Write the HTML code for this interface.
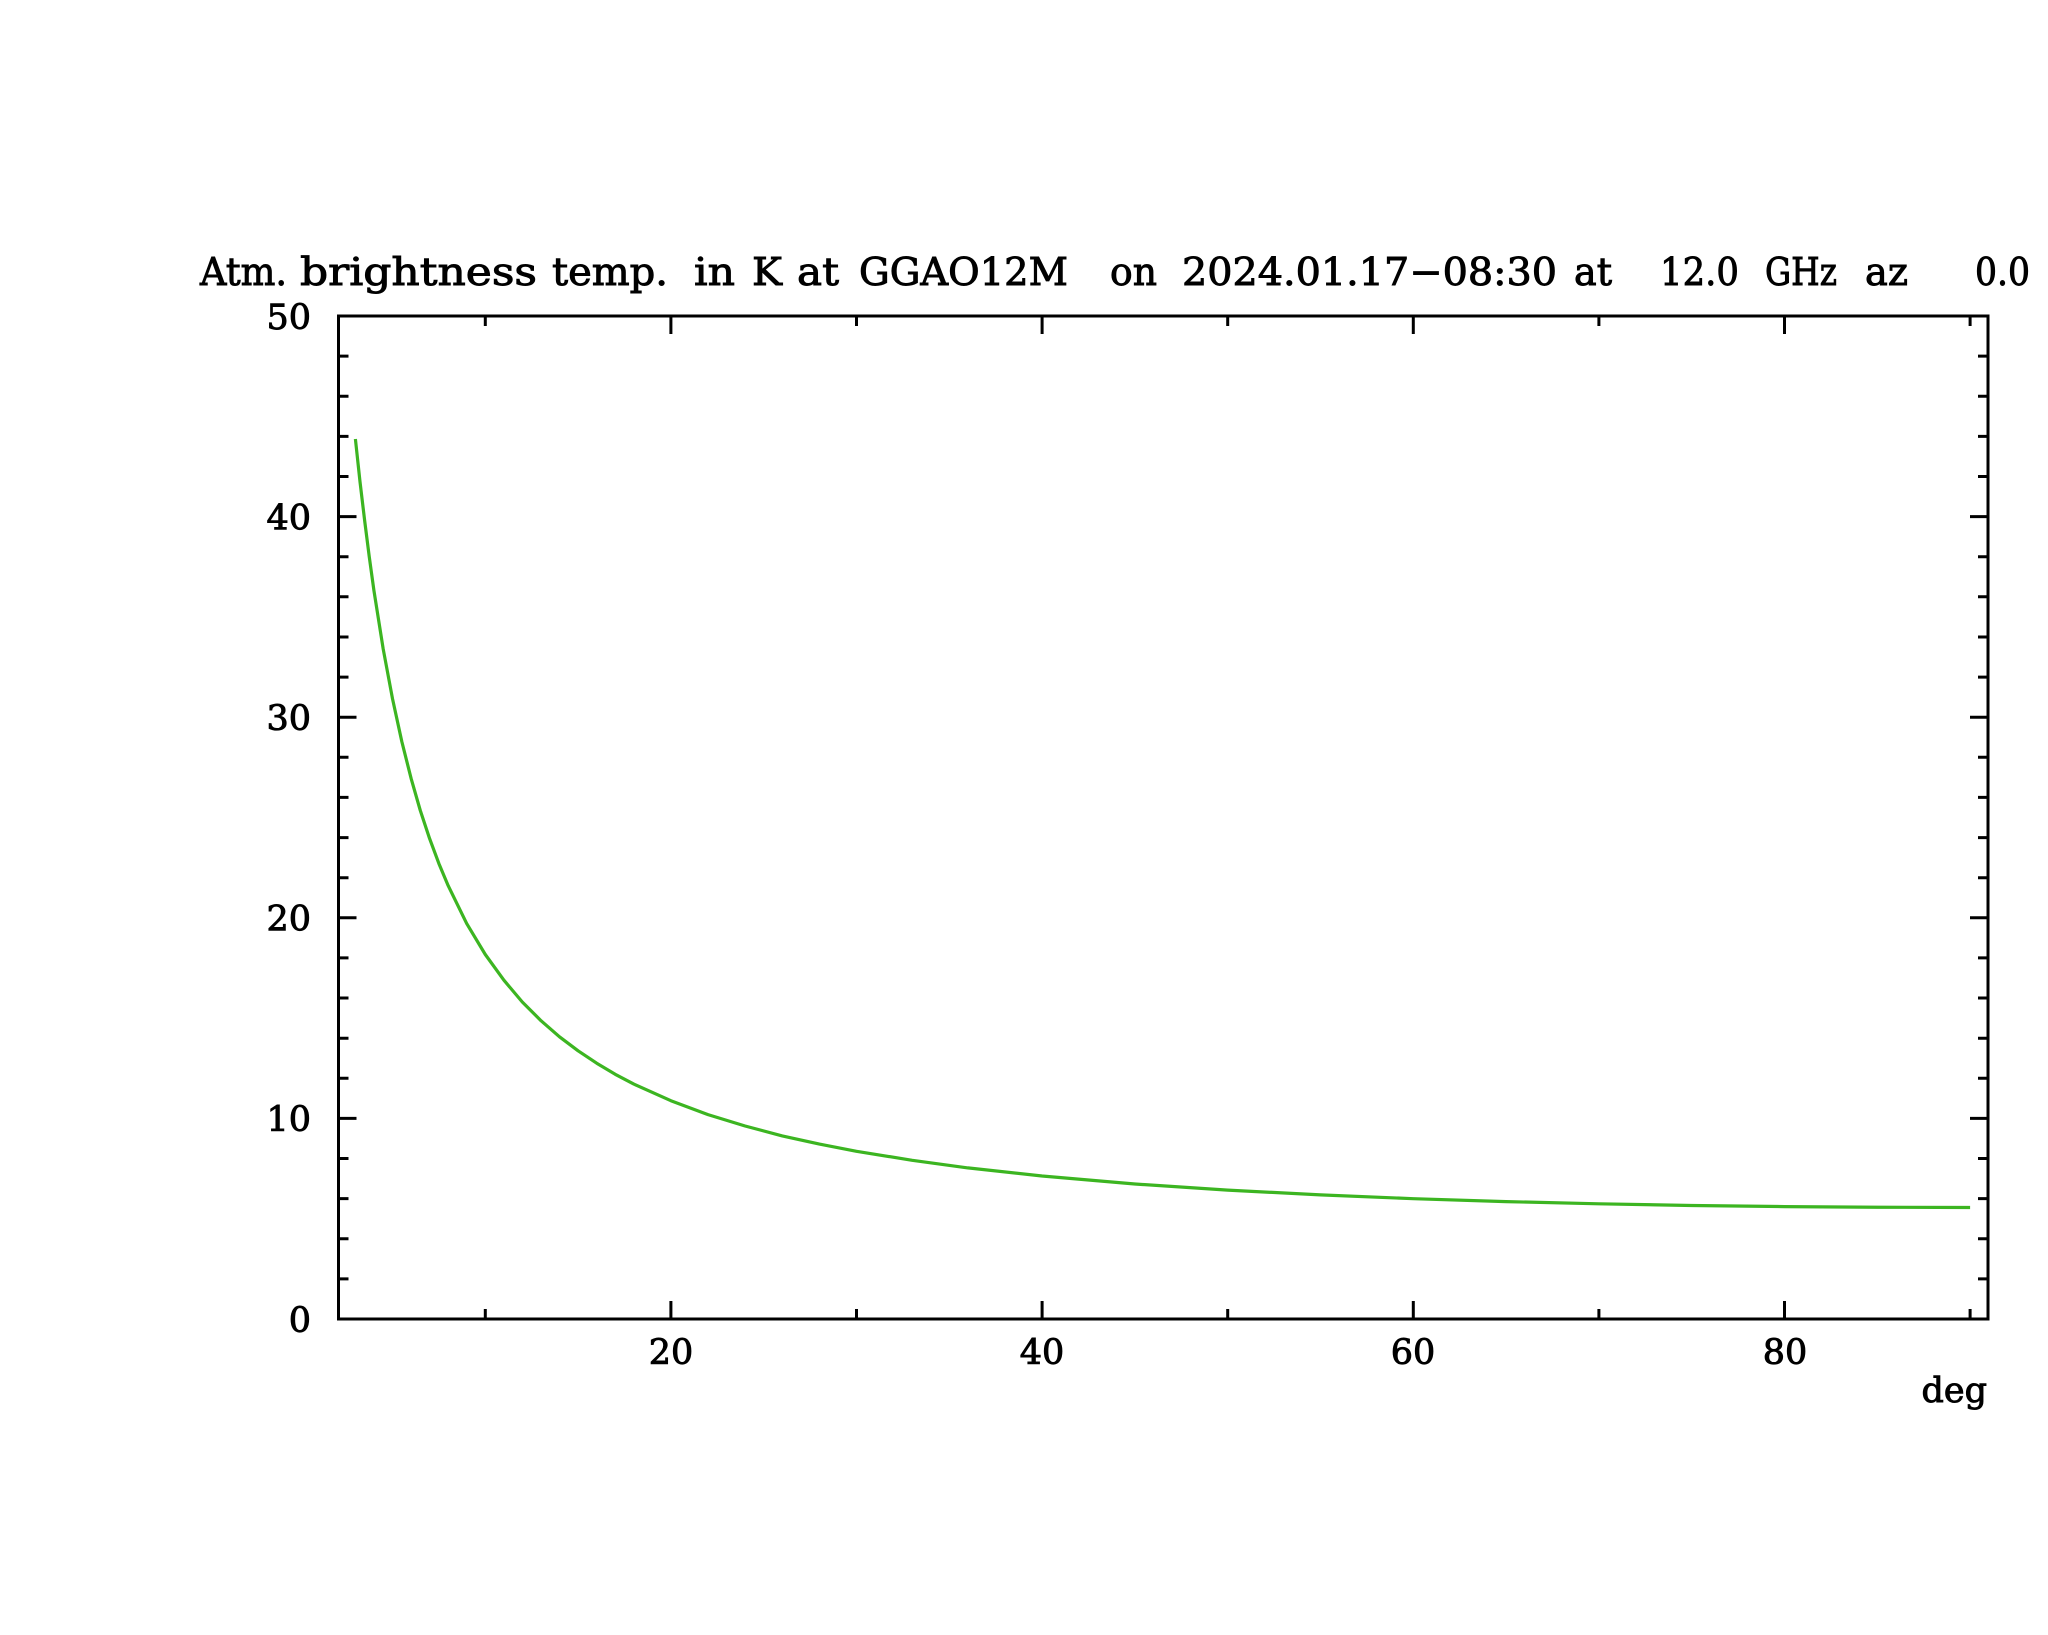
<!DOCTYPE html>
<html>
<head>
<meta charset="utf-8">
<style>
  html,body{margin:0;padding:0;background:#fff;}
  svg{display:block;}
  text{font-family:"DejaVu Serif","Liberation Serif",serif;fill:#000;stroke:#000;stroke-width:0.9px;}
</style>
</head>
<body>
<svg width="2048" height="1635" viewBox="0 0 2048 1635" xmlns="http://www.w3.org/2000/svg">
  <rect x="0" y="0" width="2048" height="1635" fill="#fff"/>

  <!-- Title -->
  <g font-size="38">
    <text x="200" y="285" textLength="87" lengthAdjust="spacingAndGlyphs">Atm.</text>
    <text x="300" y="285" textLength="237" lengthAdjust="spacingAndGlyphs">brightness</text>
    <text x="552" y="285" textLength="116" lengthAdjust="spacingAndGlyphs">temp.</text>
    <text x="694" y="285" textLength="41" lengthAdjust="spacingAndGlyphs">in</text>
    <text x="752" y="285" textLength="30" lengthAdjust="spacingAndGlyphs">K</text>
    <text x="797" y="285" textLength="42" lengthAdjust="spacingAndGlyphs">at</text>
    <text x="859" y="285" textLength="209" lengthAdjust="spacingAndGlyphs">GGAO12M</text>
    <text x="1110" y="285" textLength="47" lengthAdjust="spacingAndGlyphs">on</text>
    <text x="1182" y="285" textLength="375" lengthAdjust="spacingAndGlyphs">2024.01.17−08:30</text>
    <text x="1574" y="285" textLength="38" lengthAdjust="spacingAndGlyphs">at</text>
    <text x="1660" y="285" textLength="79" lengthAdjust="spacingAndGlyphs">12.0</text>
    <text x="1765" y="285" textLength="72" lengthAdjust="spacingAndGlyphs">GHz</text>
    <text x="1865" y="285" textLength="43" lengthAdjust="spacingAndGlyphs">az</text>
    <text x="1975" y="285" textLength="55" lengthAdjust="spacingAndGlyphs">0.0</text>
  </g>

  <!-- Frame -->
  <rect x="338.5" y="316" width="1649.5" height="1003" fill="none" stroke="#000" stroke-width="3"/>

  <!-- Ticks -->
  <path fill="none" stroke="#000" stroke-width="3" d="
    M338.5 1278.9 h10 M338.5 1238.8 h10 M338.5 1198.6 h10 M338.5 1158.5 h10 M338.5 1118.4 h18
    M338.5 1078.3 h10 M338.5 1038.2 h10 M338.5 998.0 h10 M338.5 957.9 h10 M338.5 917.8 h18
    M338.5 877.7 h10 M338.5 837.6 h10 M338.5 797.4 h10 M338.5 757.3 h10 M338.5 717.2 h18
    M338.5 677.1 h10 M338.5 637.0 h10 M338.5 596.8 h10 M338.5 556.7 h10 M338.5 516.6 h18
    M338.5 476.5 h10 M338.5 436.4 h10 M338.5 396.2 h10 M338.5 356.1 h10
    M1988 1278.9 h-10 M1988 1238.8 h-10 M1988 1198.6 h-10 M1988 1158.5 h-10 M1988 1118.4 h-18
    M1988 1078.3 h-10 M1988 1038.2 h-10 M1988 998.0 h-10 M1988 957.9 h-10 M1988 917.8 h-18
    M1988 877.7 h-10 M1988 837.6 h-10 M1988 797.4 h-10 M1988 757.3 h-10 M1988 717.2 h-18
    M1988 677.1 h-10 M1988 637.0 h-10 M1988 596.8 h-10 M1988 556.7 h-10 M1988 516.6 h-18
    M1988 476.5 h-10 M1988 436.4 h-10 M1988 396.2 h-10 M1988 356.1 h-10
    M485.3 1319 v-10 M670.9 1319 v-18 M856.5 1319 v-10 M1042.1 1319 v-18 M1227.7 1319 v-10
    M1413.3 1319 v-18 M1598.9 1319 v-10 M1784.5 1319 v-18 M1970.1 1319 v-10
    M485.3 316 v10 M670.9 316 v18 M856.5 316 v10 M1042.1 316 v18 M1227.7 316 v10
    M1413.3 316 v18 M1598.9 316 v10 M1784.5 316 v18 M1970.1 316 v10
  "/>

  <!-- Y tick labels -->
  <g font-size="35" text-anchor="end">
    <text x="311" y="1331.8">0</text>
    <text x="311" y="1131.2">10</text>
    <text x="311" y="930.6">20</text>
    <text x="311" y="730.0">30</text>
    <text x="311" y="529.4">40</text>
    <text x="311" y="328.8">50</text>
  </g>

  <!-- X tick labels -->
  <g font-size="35" text-anchor="middle">
    <text x="671" y="1364">20</text>
    <text x="1042" y="1364">40</text>
    <text x="1413" y="1364">60</text>
    <text x="1785" y="1364">80</text>
  </g>
  <text x="1987" y="1402" font-size="35" text-anchor="end">deg</text>

  <!-- Curve -->
  <path fill="none" stroke="#3cb521" stroke-width="3.2" stroke-linejoin="round" stroke-linecap="butt" d="
    M355.4 439.0
    L360.0 481.7 L364.7 521.0 L369.3 557.1 L373.9 590.4 L383.2 649.0 L392.5 698.7
    L401.8 741.5 L411.1 778.4 L420.3 810.5 L429.6 838.6 L438.9 863.6 L448.2 885.7
    L466.7 923.6 L485.3 954.5 L503.9 980.2 L522.4 1002.1 L541.0 1020.7 L559.5 1036.8
    L578.1 1050.8 L596.7 1063.2 L615.2 1074.3 L633.8 1084.1 L670.9 1100.7 L708.0 1114.6
    L745.1 1126.0 L782.3 1135.9 L819.4 1144.1 L856.5 1151.3 L912.2 1160.3 L967.9 1167.9
    L1042.1 1176.0 L1134.9 1184.0 L1227.7 1190.1 L1320.5 1194.9 L1413.3 1198.7
    L1506.1 1201.6 L1598.9 1203.8 L1691.7 1205.5 L1784.5 1206.6 L1877.3 1207.25 L1970.1 1207.5
  "/>
</svg>
</body>
</html>
